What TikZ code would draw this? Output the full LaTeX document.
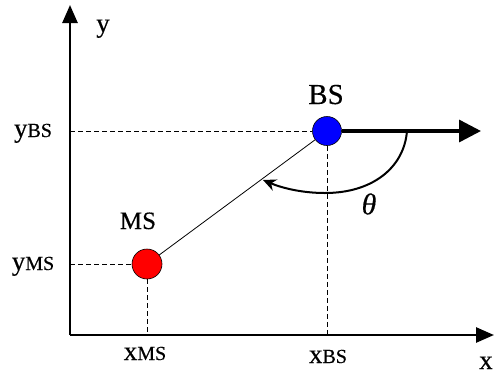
\documentclass[tikz,border=0pt]{standalone}
\usepackage{fontspec}
\setmainfont{Liberation Serif}[FakeBold=0.3]
\usetikzlibrary{arrows.meta}
\newcommand{\bigf}{\fontsize{27}{31}\selectfont}
\newcommand{\subf}{\fontsize{20}{23}\selectfont}
\begin{document}
\begin{tikzpicture}[x=1pt,y=-1pt,
  axis/.style={line width=2.6pt,-{Triangle[length=18pt,width=15pt]}},
  guide/.style={line width=0.8pt,dash pattern=on 5pt off 3pt},
  station/.style={circle,draw=black,line width=0.6pt,minimum size=29pt,inner sep=0pt},
  lbl/.style={font=\bigf,inner sep=0pt}]
\useasboundingbox (0,0) rectangle (495,376);
\coordinate (O) at (70,335);
\coordinate (ytop) at (70,5);
\coordinate (xend) at (494,335);
\draw[axis] (O) -- (ytop);
\draw[axis] (O) -- (xend);
\node[lbl,anchor=base] (ylab) at (103,32) {y};
\node[lbl,anchor=base] (xlab) at (486,369) {x};

\node[station,fill=blue] (bs) at (327,131) {};
\node[station,fill=red,minimum size=30pt] (ms) at (147,264) {};
\node[lbl,font=\fontsize{29}{33}\selectfont,anchor=base] (bslab) at (326,104) {BS};
\node[lbl,font=\fontsize{25}{29}\selectfont,anchor=base] (mslab) at (138,229) {MS};

\coordinate (ybs) at (70,131);
\coordinate (yms) at (70,264);
\coordinate (xbs) at (327,335);
\coordinate (xms) at (147,335);
\draw[guide] (ybs) -- (bs.west);
\draw[guide] (bs.south) -- (xbs);
\draw[guide] (yms) -- (ms.west);
\draw[guide] (ms.south) -- (xms);

\node[lbl,anchor=base] (ybslab) at (33,137) {y{\subf BS}};
\node[lbl,anchor=base] (ymslab) at (33,270) {y{\subf MS}};
\node[lbl,anchor=base] (xmslab) at (145,360) {x{\subf MS}};
\node[lbl,anchor=base] (xbslab) at (328,363) {x{\subf BS}};

\draw[line width=0.8pt] (ms) -- (bs);

\coordinate (heading) at (481,131);
\draw[line width=3.4pt,-{Triangle[length=22pt,width=22pt]}] (bs.east) -- (heading);

\coordinate (arcstart) at (407,131);
\coordinate (arcend) at (263,180);
\draw[line width=2pt,-{Stealth[length=13pt,width=12pt]}] (arcstart) .. controls (404,168) and (372,193) .. (325,193) .. controls (302,193) and (282,188) .. (arcend);
\node[lbl,font=\fontsize{30}{34}\selectfont] (theta) at (369,204) {\textit{θ}};
\end{tikzpicture}
\end{document}
